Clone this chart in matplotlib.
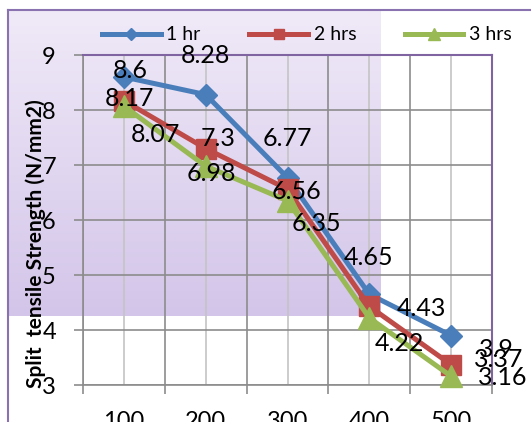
import matplotlib
matplotlib.use('Agg')
import matplotlib.pyplot as plt
import numpy as np
from matplotlib.lines import Line2D

plt.rcParams['font.family'] = ['Lato', 'DejaVu Sans']

# temperatures (x categories) and split tensile strength for each curing time
temps = ['100', '200', '300', '400', '500']
hr1 = [8.6, 8.28, 6.77, 4.65, 3.9]
hr2 = [8.17, 7.3, 6.56, 4.43, 3.37]
hr3 = [8.07, 6.98, 6.35, 4.22, 3.16]
series_names = ['1 hr', '2 hrs', '3 hrs']

# label offsets in pixels (dx, dy) so the value labels sit where they read best
off1 = [(6, 7), (0, 39), (0, 39), (-1, 37), (45, -14)]
off2 = [(6, 2), (12, 10), (9, -2), (52, -2), (48, 5)]
off3 = [(32, -28), (6, -7), (29, -23), (30, -26), (52, -1)]

W, H = 531, 422
fig = plt.figure(figsize=(W / 100, H / 100), dpi=100)
fig.patch.set_facecolor('white')

# shaded panel behind the chart
bg = fig.add_axes([8 / W, 1 - 316 / H, (381 - 8) / W, (316 - 10) / H], zorder=0)
grad = np.linspace(0, 1, 256).reshape(-1, 1)
top_c = np.array([0xf0, 0xea, 0xf8]) / 255
bot_c = np.array([0xd3, 0xc5, 0xe9]) / 255
img = top_c[None, None, :] * (1 - grad[:, :, None]) + bot_c[None, None, :] * grad[:, :, None]
bg.imshow(img, aspect='auto', extent=[0, 1, 0, 1])
bg.axis('off')

# outer frame lines (left and top)
purple = '#8a72b0'
fig.add_artist(Line2D([8 / W, 8 / W], [0, 1 - 10 / H], color=purple, lw=1.5))
fig.add_artist(Line2D([8 / W, 1], [1 - 10 / H, 1 - 10 / H], color=purple, lw=1.5))

ax = fig.add_axes([83 / W, 1 - 385 / H, (492 - 83) / W, (385 - 55) / H], zorder=1)
ax.patch.set_alpha(0)

x = np.arange(len(temps))
styles = [
    (hr1, '#4a7ebb', 'D', 11.5, off1),
    (hr2, '#be4b48', 's', 14, off2),
    (hr3, '#98b954', '^', 16, off3),
]
for (vals, col, mk, ms, offs), name in zip(styles, series_names):
    ax.plot(x, vals, color=col, lw=3.6, marker=mk, ms=ms, mec=col, mfc=col,
            label=name, zorder=3, clip_on=False)
    for xi, v, (dx, dy) in zip(x, vals, offs):
        ax.annotate('{:g}'.format(v), (xi, v), xytext=(dx, dy),
                    textcoords='offset pixels', ha='center', va='center',
                    fontsize=18, color='black', zorder=5, annotation_clip=False)

ax.set_xlim(-0.5, 4.5)
ax.set_ylim(3, 9)
ax.set_yticks(np.arange(3, 10, 1))
ax.set_xticks(np.arange(-0.5, 5, 1))
ax.set_xticks(x, minor=True)
ax.set_xticklabels([])
ax.set_xticklabels(temps, minor=True)

grid_c = '#8c8c8c'
ax.grid(True, which='major', color=grid_c, lw=1.2, zorder=0)
ax.grid(True, which='minor', axis='x', color='#c4c4c4', lw=1.2, zorder=0)
ax.set_axisbelow(True)

ax.tick_params(axis='y', which='major', direction='out', length=6.5, width=1.2,
               color=grid_c, labelsize=17, pad=13)
ax.tick_params(axis='x', which='major', direction='out', length=6.5, width=1.2,
               color=grid_c)
ax.tick_params(axis='x', which='minor', length=0, labelsize=17, pad=19)

for s in ['left', 'bottom']:
    ax.spines[s].set_color(grid_c)
    ax.spines[s].set_linewidth(1.2)
for s in ['top', 'right']:
    ax.spines[s].set_color('#8064a2')
    ax.spines[s].set_linewidth(1.5)

fig.text(36 / W, 1 - 244 / H, 'Split  tensile Strength (N/mm2)', rotation=90,
         ha='center', va='center', fontsize=15, fontweight='bold')

fig.legend(loc='center', bbox_to_anchor=(307 / W, 1 - 35 / H), ncol=3,
           frameon=False, fontsize=14, handlelength=3, handletextpad=0.3,
           columnspacing=2.5, markerscale=0.5)

fig.savefig('out.png', dpi=100)
